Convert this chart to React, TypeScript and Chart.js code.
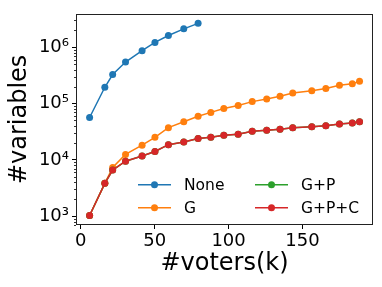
import React, { useEffect, useRef } from 'react';
import { Chart, registerables } from 'chart.js';
Chart.register(...registerables);

const voters = [6, 16.3, 21.6, 30.3, 41.5, 50.2, 59.3, 69.7, 79.4, 88, 96.8, 106.5, 116, 125.8, 134.8, 143.4, 156.3, 165.8, 175, 183.7, 188.6];
const noneVars = [56500, 194000, 327000, 543000, 863000, 1210000, 1610000, 2110000, 2640000];
const gVars = [1030, 3840, 7360, 12500, 18200, 25100, 37300, 47400, 59300, 69600, 81700, 92000, 108000, 120000, 134000, 153000, 168000, 185000, 211000, 225000, 247000];
const gpVars = [1030, 3840, 6600, 9460, 11700, 14100, 18600, 20800, 24000, 25300, 27400, 28600, 32200, 33500, 34800, 37300, 38800, 40400, 43100, 44900, 47400];
const gpcVars = [1030, 3840, 6600, 9460, 11700, 14100, 18600, 20800, 24000, 25300, 27400, 28600, 32200, 33500, 34800, 37300, 38800, 40400, 43100, 44900, 47400];
const seriesNames = ['None', 'G', 'G+P', 'G+P+C'];
const seriesColors = ['#1f77b4', '#ff7f0e', '#2ca02c', '#d62728'];
const xTicks = [0, 50, 100, 150];
const yTicks = [1e3, 1e4, 1e5, 1e6];
const xTitle = '#voters(k)';
const yTitle = '#variables';

const SUP: Record<string, string> = { '0': '⁰', '1': '¹', '2': '²', '3': '³', '4': '⁴', '5': '⁵', '6': '⁶', '7': '⁷', '8': '⁸', '9': '⁹' };
const FONT = 'DejaVu Sans';

const toPoints = (ys: number[]) => ys.map((y, i) => ({ x: voters[i], y }));

const decorPlugin = {
  id: 'decor',
  afterDraw(chart: any) {
    const { ctx, chartArea } = chart;
    const { left, right, top, bottom } = chartArea;
    ctx.save();
    // minor ticks on log axis
    const ys = chart.scales.y;
    ctx.strokeStyle = '#000';
    ctx.lineWidth = 0.8;
    for (let e = 2; e <= 7; e++) {
      for (let m = 2; m <= 9; m++) {
        const v = m * Math.pow(10, e);
        if (v < ys.min || v > ys.max) continue;
        const py = Math.round(ys.getPixelForValue(v)) + 0.5;
        ctx.beginPath();
        ctx.moveTo(left - 2, py);
        ctx.lineTo(left, py);
        ctx.stroke();
      }
    }
    // frame
    ctx.strokeStyle = '#222';
    ctx.lineWidth = 1;
    const l = Math.round(left) + 0.5, r = Math.round(right) - 0.5;
    const t = Math.round(top) + 0.5, b = Math.round(bottom) - 0.5;
    ctx.strokeRect(l, t, r - l, b - t);
    // legend
    const cols = [left + 62, left + 179];
    const rows = [top + 171, top + 194];
    ctx.font = `15.5px "${FONT}"`;
    ctx.textBaseline = 'middle';
    ctx.textAlign = 'left';
    seriesNames.forEach((name, i) => {
      const cx = cols[Math.floor(i / 2)];
      const cy = rows[i % 2];
      ctx.strokeStyle = seriesColors[i];
      ctx.lineWidth = 1.5;
      ctx.beginPath();
      ctx.moveTo(cx, cy);
      ctx.lineTo(cx + 33, cy);
      ctx.stroke();
      ctx.fillStyle = seriesColors[i];
      ctx.beginPath();
      ctx.arc(cx + 16.5, cy, 3.5, 0, Math.PI * 2);
      ctx.fill();
      ctx.fillStyle = '#000';
      ctx.fillText(name, cx + 46, cy + 1);
    });
    ctx.restore();
  },
};

export default function App() {
  const ref = useRef<HTMLCanvasElement>(null);
  useEffect(() => {
    if (!ref.current) return;
    const all = [noneVars, gVars, gpVars, gpcVars];
    const chart = new Chart(ref.current, {
      type: 'line',
      data: {
        datasets: all.map((ys, i) => ({
          label: seriesNames[i],
          data: toPoints(ys),
          borderColor: seriesColors[i],
          backgroundColor: seriesColors[i],
          pointBackgroundColor: seriesColors[i],
          pointBorderWidth: 0,
          pointRadius: 3.5,
          borderWidth: 1.5,
          fill: false,
          tension: 0,
          order: 3 - i,
        })),
      },
      options: {
        animation: false,
        responsive: false,
        layout: { padding: { top: 8, right: 9, left: 0, bottom: 0 } },
        plugins: { legend: { display: false }, tooltip: { enabled: false } },
        scales: {
          x: {
            type: 'linear',
            min: -3.2,
            max: 197.7,
            afterBuildTicks: (s: any) => { s.ticks = xTicks.map((v) => ({ value: v })); },
            afterFit: (s: any) => { s.height = 62; },
            ticks: { autoSkip: false, maxRotation: 0, color: '#000', font: { family: FONT, size: 18 }, padding: 2 },
            grid: { display: true, drawOnChartArea: false, drawTicks: true, tickLength: 4, color: '#000' },
            border: { display: false },
            title: { display: true, text: xTitle, color: '#000', font: { family: FONT, size: 24 }, padding: { top: 0, bottom: 8.6 } },
          },
          y: {
            type: 'logarithmic',
            min: 700,
            max: 3.9e6,
            afterBuildTicks: (s: any) => { s.ticks = yTicks.map((v) => ({ value: v })); },
            afterFit: (s: any) => { s.width = 76; },
            ticks: {
              autoSkip: false,
              color: '#000',
              font: { family: FONT, size: 18 },
              padding: 3,
              callback: (v: any) => '10' + String(Math.round(Math.log10(Number(v)))).split('').map((c) => SUP[c]).join(''),
            },
            grid: { display: true, drawOnChartArea: false, drawTicks: true, tickLength: 4, color: '#000' },
            border: { display: false },
            title: { display: true, text: yTitle, color: '#000', font: { family: FONT, size: 24 }, padding: { top: 5, bottom: 0 } },
          },
        },
      },
      plugins: [decorPlugin],
    } as any);
    return () => chart.destroy();
  }, []);
  return (
    <div style={{ position: 'fixed', left: 0, top: 0, width: 382, height: 287, background: '#fff' }}>
      <canvas ref={ref} width={382} height={287} />
    </div>
  );
}
